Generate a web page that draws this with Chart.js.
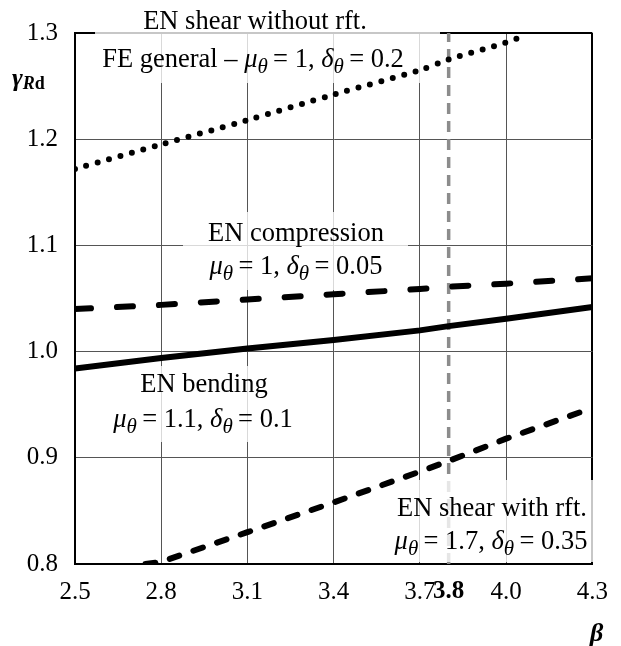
<!DOCTYPE html>
<html>
<head>
<meta charset="utf-8">
<script src="https://cdn.jsdelivr.net/npm/chart.js@4/dist/chart.umd.min.js"></script>
<style>
  html, body { margin: 0; padding: 0; background: #fff; }
  #wrap { width: 621px; height: 646px; position: relative; }
</style>
</head>
<body>
<div id="wrap"><canvas id="grafico"></canvas></div>
<script>
// valores
const xTicks = [2.5, 2.8, 3.1, 3.4, 3.7, 3.8, 4.0, 4.3];
const xTickLabels = ["2.5", "2.8", "3.1", "3.4", "3.7", "3.8", "4.0", "4.3"];
const yTicks = [0.8, 0.9, 1.0, 1.1, 1.2, 1.3];

const betaShearNoRft = [2.5, 2.8, 3.1, 3.4, 3.7, 3.8, 4.0, 4.06];
const shearNoRft = [1.172, 1.195, 1.218, 1.242, 1.265, 1.275, 1.291, 1.297];

const betaCompression = [2.5, 2.8, 3.1, 3.4, 3.7, 3.8, 4.0, 4.3];
const compression = [1.040, 1.044, 1.049, 1.054, 1.059, 1.061, 1.064, 1.069];

const betaBending = [2.5, 2.8, 3.1, 3.4, 3.7, 3.8, 4.0, 4.3];
const bending = [0.984, 0.994, 1.003, 1.011, 1.020, 1.024, 1.031, 1.042];

const betaShearRft = [2.745, 2.8, 3.1, 3.4, 3.7, 3.8, 4.0, 4.3];
const shearRft = [0.800, 0.802, 0.830, 0.858, 0.887, 0.897, 0.918, 0.947];

const betaTarget = [3.8, 3.8];
const targetLine = [0.8, 1.3];

const FONTE = '"Liberation Serif", "Times New Roman", serif';

function pares(xs, ys) {
  return xs.map(function (x, i) { return { x: x, y: ys[i] }; });
}

// texto com partes em italico e subscrito
function textoRico(ctx, partes, cx, cy) {
  const tam = 26.5;
  const fontes = {
    n: tam + "px " + FONTE,
    i: "italic " + tam + "px " + FONTE,
    s: "italic " + Math.round(tam * 0.78) + "px " + FONTE,
  };
  let total = 0;
  partes.forEach(function (p) {
    ctx.font = fontes[p[1]];
    total += ctx.measureText(p[0]).width;
  });
  let x = cx - total / 2;
  const base = cy + tam * 0.33;
  ctx.textAlign = "left";
  ctx.textBaseline = "alphabetic";
  ctx.fillStyle = "#000";
  partes.forEach(function (p) {
    ctx.font = fontes[p[1]];
    ctx.fillText(p[0], x, p[1] === "s" ? base + 6 : base);
    x += ctx.measureText(p[0]).width;
  });
}

const caixas = [
  { box: [95, 0, 345, 83], linhas: [
    { y: 20, cx: 255, partes: [["EN shear without rft.", "n"]] },
    { y: 58, cx: 253, partes: [["FE general \u2013 ", "n"], ["\u03bc", "i"], ["\u03b8", "s"], ["\u2009= 1, ", "n"], ["\u03b4", "i"], ["\u03b8", "s"], ["\u2009= 0.2", "n"]] },
  ]},
  { box: [183, 212, 225, 78], linhas: [
    { y: 232, cx: 296, partes: [["EN compression", "n"]] },
    { y: 265, cx: 296, partes: [["\u03bc", "i"], ["\u03b8", "s"], ["\u2009= 1, ", "n"], ["\u03b4", "i"], ["\u03b8", "s"], ["\u2009= 0.05", "n"]] },
  ]},
  { box: [112, 366, 186, 76], linhas: [
    { y: 383, cx: 204, partes: [["EN bending", "n"]] },
    { y: 418, cx: 203, partes: [["\u03bc", "i"], ["\u03b8", "s"], ["\u2009= 1.1, ", "n"], ["\u03b4", "i"], ["\u03b8", "s"], ["\u2009= 0.1", "n"]] },
  ]},
  { box: [388, 480, 218, 82], linhas: [
    { y: 507, cx: 492, partes: [["EN shear with rft.", "n"]] },
    { y: 540, cx: 491, partes: [["\u03bc", "i"], ["\u03b8", "s"], ["\u2009= 1.7, ", "n"], ["\u03b4", "i"], ["\u03b8", "s"], ["\u2009= 0.35", "n"]] },
  ]},
];

const pluginRotulos = {
  id: "rotulos",
  afterDatasetDraw: function (chart, args) {
    if (args.index !== 4) return;
    const ctx = chart.ctx;
    ctx.save();
    caixas.forEach(function (c) {
      ctx.fillStyle = "rgba(255,255,255,0.78)";
      ctx.fillRect(c.box[0], c.box[1], c.box[2], c.box[3]);
      c.linhas.forEach(function (l) { textoRico(ctx, l.partes, l.cx, l.y); });
    });
    ctx.restore();
  },
  afterDraw: function (chart) {
    const ctx = chart.ctx;
    ctx.save();
    ctx.fillStyle = "#000";
    ctx.textAlign = "left";
    ctx.textBaseline = "alphabetic";
    // titulo eixo y: gamma_Rd
    ctx.font = "bold italic 26px " + FONTE;
    ctx.fillText("\u03b3", 12, 86);
    let x = 12 + ctx.measureText("\u03b3").width;
    ctx.font = "bold italic 18px " + FONTE;
    ctx.fillText("R", x, 89);
    x += ctx.measureText("R").width;
    ctx.font = "bold 18px " + FONTE;
    ctx.fillText("d", x, 89);
    // titulo eixo x: beta
    ctx.font = "bold italic 26px " + FONTE;
    ctx.fillText("\u03b2", 590, 641);
    ctx.restore();
  },
};

const fonteTick = { family: FONTE, size: 25 };

new Chart(document.getElementById("grafico"), {
  type: "line",
  plugins: [pluginRotulos],
  data: {
    datasets: [
      {
        label: "EN shear without rft.",
        data: pares(betaShearNoRft, shearNoRft),
        borderColor: "#000",
        borderWidth: 6,
        borderDash: [0, 11.8],
        borderCapStyle: "round",
        pointRadius: 0,
        tension: 0.3,
      },
      {
        label: "EN compression",
        data: pares(betaCompression, compression),
        borderColor: "#000",
        borderWidth: 6,
        borderDash: [16, 26],
        borderCapStyle: "round",
        pointRadius: 0,
      },
      {
        label: "EN bending",
        data: pares(betaBending, bending),
        borderColor: "#000",
        borderWidth: 6,
        pointRadius: 0,
      },
      {
        label: "EN shear with rft.",
        data: pares(betaShearRft, shearRft),
        borderColor: "#000",
        borderWidth: 6,
        borderDash: [10, 15],
        borderCapStyle: "round",
        pointRadius: 0,
      },
      {
        label: "beta = 3.8",
        data: pares(betaTarget, targetLine),
        borderColor: "#8c8c8c",
        borderWidth: 3.5,
        borderDash: [11, 7],
        pointRadius: 0,
      },
    ],
  },
  options: {
    responsive: true,
    maintainAspectRatio: false,
    animation: false,
    layout: { padding: { top: 33, right: 17, left: 0, bottom: 0 } },
    plugins: { legend: { display: false }, tooltip: { enabled: false } },
    scales: {
      x: {
        type: "linear",
        min: 2.5,
        max: 4.3,
        afterBuildTicks: function (scale) {
          scale.ticks = xTicks.map(function (v) { return { value: v }; });
        },
        afterFit: function (scale) { scale.height = 82; },
        grid: {
          drawTicks: false,
          color: function (c) {
            if (c.tick && c.tick.value === 3.8) return "rgba(0,0,0,0)";
            if (c.tick && c.tick.value === 4.3) return "#000";
            return "#555";
          },
          lineWidth: function (c) {
            return c.tick && c.tick.value === 4.3 ? 2 : 1;
          },
        },
        border: { color: "#000", width: 2 },
        ticks: {
          autoSkip: false,
          maxRotation: 0,
          padding: 13,
          color: "#000",
          font: function (c) {
            if (c.tick && c.tick.value === 3.8) return { family: FONTE, size: 25, weight: "bold" };
            return fonteTick;
          },
          callback: function (v, i) { return xTickLabels[i]; },
        },
      },
      y: {
        min: 0.8,
        max: 1.3,
        afterBuildTicks: function (scale) {
          scale.ticks = yTicks.map(function (v) { return { value: v }; });
        },
        afterFit: function (scale) { scale.width = 75; },
        grid: {
          drawTicks: false,
          color: function (c) {
            return c.tick && c.tick.value === 1.3 ? "#000" : "#555";
          },
          lineWidth: function (c) {
            return c.tick && c.tick.value === 1.3 ? 2 : 1;
          },
        },
        border: { color: "#000", width: 2 },
        ticks: {
          padding: 17,
          color: "#000",
          font: fonteTick,
          callback: function (v) { return Number(v).toFixed(1); },
        },
      },
    },
  },
});
</script>
</body>
</html>
